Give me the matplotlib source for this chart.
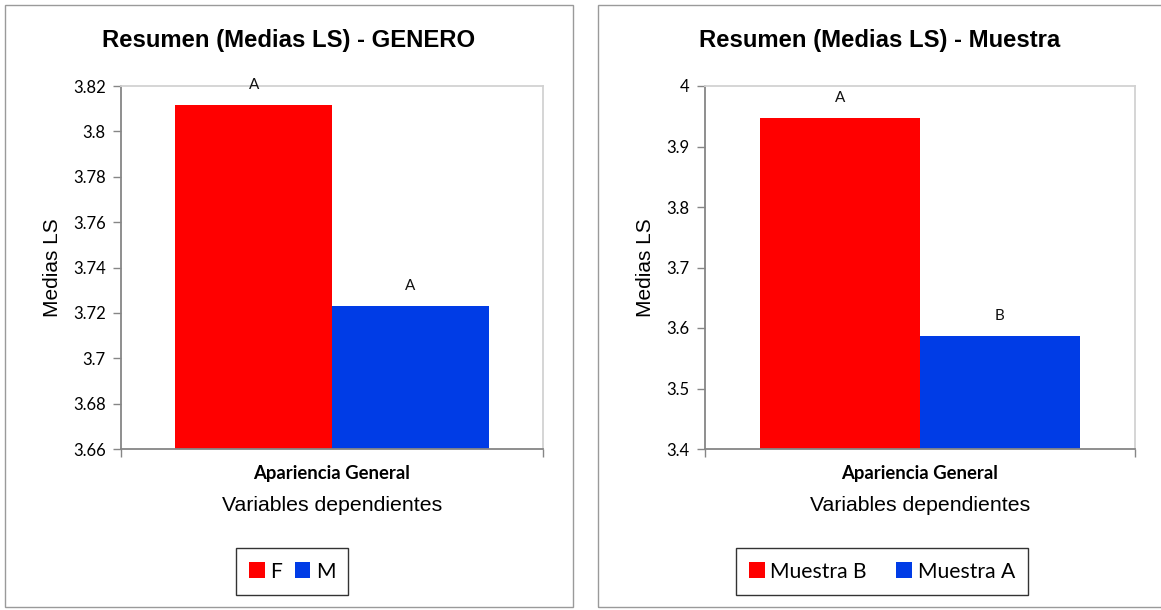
import matplotlib
matplotlib.use("Agg")
import matplotlib.pyplot as plt
from matplotlib.patches import Rectangle, Patch
from matplotlib.ticker import FixedLocator, FuncFormatter

# ---- data ----
category = ["Apariencia General"]

genero_groups = ["F", "M"]
genero_means = [3.8117, 3.7229]
genero_letters = ["A", "A"]
genero_ticks = [3.66, 3.68, 3.70, 3.72, 3.74, 3.76, 3.78, 3.80, 3.82]

muestra_groups = ["Muestra B", "Muestra A"]
muestra_means = [3.947, 3.586]
muestra_letters = ["A", "B"]
muestra_ticks = [3.4, 3.5, 3.6, 3.7, 3.8, 3.9, 4.0]

titles = ["Resumen (Medias LS) - GENERO", "Resumen (Medias LS) - Muestra"]
bar_colors = ["#FF0000", "#003CE6"]

W, H = 1161, 610
fig = plt.figure(figsize=(W / 100, H / 100), dpi=100)
fig.patch.set_facecolor("white")

ARIAL = "Liberation Sans"
CAL = "Lato"


def px_box(x0, y0, x1, y1):
    """Convert a pixel box (top-left origin) into figure fractions."""
    return [x0 / W, 1 - y1 / H, (x1 - x0) / W, (y1 - y0) / H]


def fmt(v, _pos=None):
    return f"{v:.2f}".rstrip("0").rstrip(".")


def panel(frame, axbox, title, groups, means, letters, ticks, legend_box, colsp):
    # outer frame of the chart
    fx0, fy0, fx1, fy1 = frame
    fig.add_artist(Rectangle((fx0 / W, 1 - fy1 / H), (fx1 - fx0) / W, (fy1 - fy0) / H,
                             transform=fig.transFigure, fill=False,
                             edgecolor="#9A9A9A", lw=1.0))
    fig.text((fx0 + min(fx1, W)) / 2 / W, 1 - 40 / H, title, family=ARIAL,
             fontweight="bold", fontsize=17.2, ha="center", va="center")

    ax = fig.add_axes(px_box(*axbox))
    width = 0.371
    offsets = [-width / 2, width / 2]
    for g, m, c, o, lt in zip(groups, means, bar_colors, offsets, letters):
        ax.bar(o, m - ticks[0], bottom=ticks[0], width=width, color=c,
               edgecolor="none", label=g, zorder=2)
        ax.annotate(lt, (o, m), xytext=(0, 14.5), textcoords="offset points",
                    ha="center", va="center", fontsize=11, family=CAL,
                    color="#111111", zorder=3, annotation_clip=False)
    ax.set_xlim(-0.5, 0.5)
    ax.set_ylim(ticks[0], ticks[-1])
    ax.yaxis.set_major_locator(FixedLocator(ticks))
    ax.yaxis.set_major_formatter(FuncFormatter(fmt))
    ax.set_xticks([0])
    ax.set_xticklabels(category, family=CAL, fontweight="bold", fontsize=13.3)
    ax.set_xticks([-0.5, 0.5], minor=True)
    ax.tick_params(axis="x", which="major", length=0, pad=11.5)
    ax.tick_params(axis="x", which="minor", length=6, width=1, color="#868686",
                   direction="out")
    ax.tick_params(axis="y", length=6, width=1, color="#868686", pad=5,
                   labelsize=12)
    for lab in ax.get_yticklabels():
        lab.set_family(CAL)
    for s in ["left", "bottom"]:
        ax.spines[s].set_color("#868686")
        ax.spines[s].set_linewidth(1.3)
    for s in ["top", "right"]:
        ax.spines[s].set_color("#D2D2D2")
        ax.spines[s].set_linewidth(1.3)
    ax.set_ylabel("Medias LS", family=ARIAL, fontsize=15, labelpad=8)
    ax.set_xlabel("Variables dependientes", family=ARIAL, fontsize=15.3, labelpad=10)

    handles = [Patch(facecolor=c, edgecolor="none") for c in bar_colors]
    lx0, ly0, lx1, ly1 = legend_box
    leg = fig.legend(handles, groups, loc="center",
                     bbox_to_anchor=((lx0 + lx1) / 2 / W, 1 - (ly0 + ly1) / 2 / H),
                     ncol=2, frameon=True, fancybox=False, edgecolor="black",
                     prop={"family": CAL, "size": 15.2}, handlelength=0.75,
                     handleheight=0.75, handletextpad=0.25, columnspacing=colsp,
                     borderpad=0.62, borderaxespad=0)
    leg.get_frame().set_linewidth(1.0)
    return ax


panel((5, 5, 573, 607), (121, 86, 543, 449), titles[0], genero_groups,
      genero_means, genero_letters, genero_ticks, (241, 549, 343, 594), 0.6)
panel((598, 5, 1166, 607), (705, 86, 1135, 449), titles[1], muestra_groups,
      muestra_means, muestra_letters, muestra_ticks, (729, 549, 1035, 594), 1.4)

fig.savefig("out.png", dpi=100, facecolor="white")
